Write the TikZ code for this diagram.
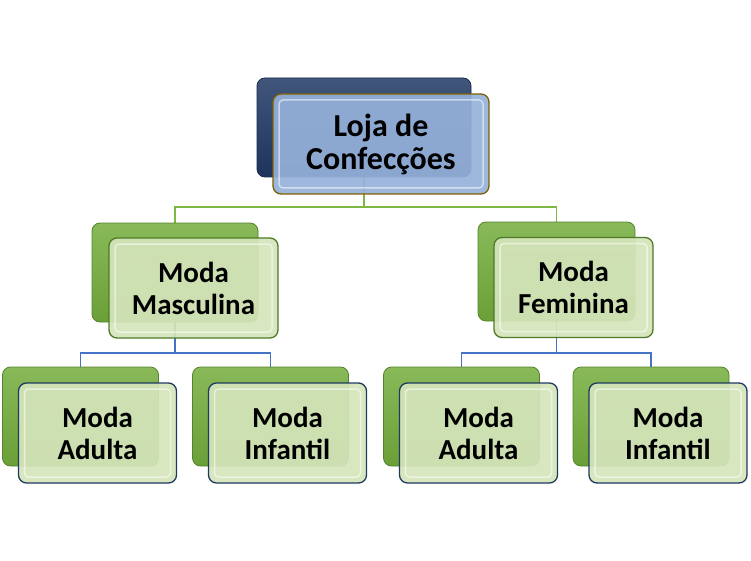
\documentclass[tikz,border=0pt]{standalone}
\usepackage{fontspec}
\setmainfont{Carlito}
\usetikzlibrary{backgrounds}

\definecolor{leafgreen}{HTML}{74AD3C}
\definecolor{leafedge}{HTML}{4E7A27}
\definecolor{palegreen}{HTML}{D5E5BB}
\definecolor{navyback}{HTML}{203864}
\definecolor{paleblue}{HTML}{95B1DA}
\definecolor{goldedge}{HTML}{7F6000}
\definecolor{navyedge}{HTML}{1F3A60}
\definecolor{linkgreen}{HTML}{7DB845}
\definecolor{linkblue}{HTML}{4472C4}

\begin{document}
\begin{tikzpicture}[x=1pt,y=-1pt]
	\tikzset{backbox/.style={rounded corners=8pt,draw=#1!75!black,line width=0.8pt,
			top color=#1!85!white,bottom color=#1!92!black,minimum height=99pt,inner sep=0pt},
		frontbox/.style={rounded corners=8pt,draw=#1,line width=1.3pt,fill=palegreen,
			fill opacity=.92,text opacity=1,minimum height=100pt,inner sep=0pt,align=center,
			font=\bfseries\fontsize{29}{32}\selectfont,
			path picture={\draw[white,opacity=.55,line width=1.5pt,rounded corners=4pt]
				([shift={(6pt,6pt)}]path picture bounding box.south west) rectangle
				([shift={(-6pt,-6pt)}]path picture bounding box.north east);}},
		link/.style={draw=#1,line width=1.6pt}}
	\def\dx{17} \def\dy{16.5}% front box sits down-right of its back box
	\useasboundingbox (0,0) rectangle (751,561);
	% top
	\node[backbox=navyback,minimum width=214pt] (root) at (364,127.5) {};
	\node[frontbox=goldedge,fill=paleblue,minimum width=216pt,
		font=\bfseries\fontsize{32}{33}\selectfont] (rootf) at (381,144) {Loja de\\Confecções};
	% second row
	\node[backbox=leafgreen,minimum width=166pt] (masc) at (175,272.5) {};
	\node[frontbox=leafedge,minimum width=169pt] (mascf) at (193.5,288) {Moda\\Masculina};
	\node[backbox=leafgreen,minimum width=157pt] (fem) at (556.5,271.5) {};
	\node[frontbox=leafedge,minimum width=159pt] (femf) at (573.5,287.5) {Moda\\Feminina};
	% third row
	\foreach \n/\x/\t in {madu/80.5/Adulta,minf/270.5/Infantil,fadu/461.5/Adulta,finf/651/Infantil}{
		\node[backbox=leafgreen,minimum width=156pt] (\n) at (\x,416.5) {};
		\node[frontbox=navyedge,minimum width=158pt] (\n f) at (\x+\dx,416.5+\dy) {Moda\\\t};
	}
	\coordinate (j1) at (364,207);
	\coordinate (j2) at (175,353);
	\coordinate (j3) at (556.5,353);
	\begin{pgfonlayer}{background}
		\draw[link=linkgreen] (root) -- (j1) -| (masc);
		\draw[link=linkgreen] (j1) -| (fem);
		\draw[link=linkblue] (masc) -- (j2) -| (madu);
		\draw[link=linkblue] (j2) -| (minf);
		\draw[link=linkblue] (fem) -- (j3) -| (fadu);
		\draw[link=linkblue] (j3) -| (finf);
	\end{pgfonlayer}
\end{tikzpicture}
\end{document}
